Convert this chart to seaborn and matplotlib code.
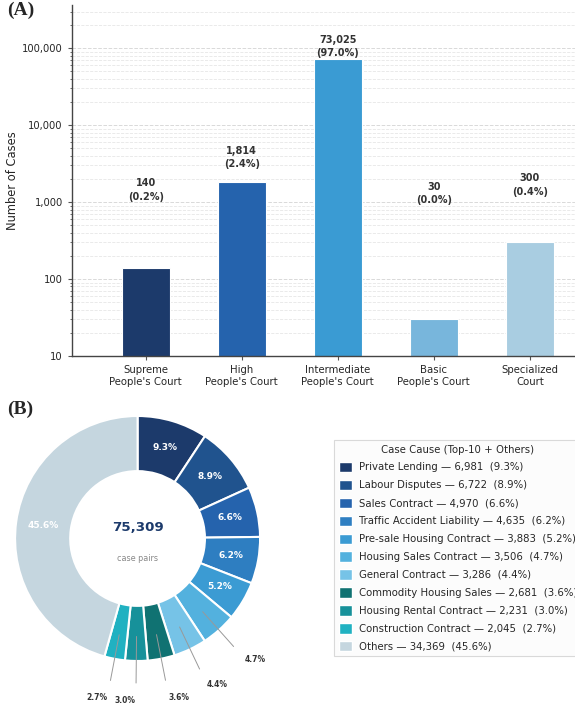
import numpy as np
import pandas as pd
import matplotlib
matplotlib.use("Agg")
import matplotlib.pyplot as plt
from matplotlib.ticker import FuncFormatter, LogLocator
from matplotlib.patches import Patch
from matplotlib.font_manager import FontProperties
import seaborn as sns

# ---- data ----
courts = ["Supreme\nPeople's Court", "High\nPeople's Court", "Intermediate\nPeople's Court",
          "Basic\nPeople's Court", "Specialized\nCourt"]
court_counts = [140, 1814, 73025, 30, 300]
court_colors = ["#1c3a6b", "#2563ad", "#3a9bd3", "#78b6dc", "#a9cde1"]

causes = ["Private Lending", "Labour Disputes", "Sales Contract", "Traffic Accident Liability",
          "Pre-sale Housing Contract", "Housing Sales Contract", "General Contract",
          "Commodity Housing Sales", "Housing Rental Contract", "Construction Contract", "Others"]
cause_counts = [6981, 6722, 4970, 4635, 3883, 3506, 3286, 2681, 2231, 2045, 34369]
cause_colors = ["#1c3a6b", "#20538e", "#2563ad", "#2e7ec1", "#3b9bd3", "#53b1de", "#76c3e7",
                "#107272", "#17919a", "#20b1c1", "#c5d6df"]

sns.set_style("white")
plt.rcParams["font.family"] = ["DejaVu Sans"]

fig = plt.figure(figsize=(5.75, 7.09), dpi=100)

# ---- (A) bar chart ----
ax = fig.add_axes([0.125, 0.498, 0.925, 0.495])
df = pd.DataFrame({"court": courts, "count": court_counts})
sns.barplot(data=df, x="court", y="count", hue="court", palette=court_colors, legend=False,
            width=0.5, saturation=1, edgecolor="white", linewidth=0.8, ax=ax)
ax.set_yscale("log")
total_a = sum(court_counts)
ax.set_ylim(10, max(court_counts) * 5)
ax.set_xlim(-0.77, 4.77)
ax.yaxis.set_major_formatter(FuncFormatter(lambda v, _: f"{int(v):,}"))
ax.yaxis.set_minor_locator(LogLocator(base=10, subs=np.arange(2, 10)))
ax.yaxis.grid(True, which="major", linestyle="--", color="#d9d9d9", linewidth=0.7)
ax.yaxis.grid(True, which="minor", linestyle="--", color="#e6e6e6", linewidth=0.6)
ax.set_axisbelow(True)
ax.tick_params(axis="y", which="major", labelsize=7.2, length=3, color="#555555", left=True)
ax.tick_params(axis="y", which="minor", length=1.5, color="#555555", left=True)
ax.tick_params(axis="x", labelsize=7.3, length=3, color="#555555", bottom=True)
ax.set_xlabel("")
ax.set_ylabel("Number of Cases", fontsize=8.3, labelpad=2)
sns.despine(ax=ax)
for s in ["left", "bottom"]:
    ax.spines[s].set_color("#444444")
    ax.spines[s].set_linewidth(1.0)

pad = max(court_counts) * 0.012
for i, v in enumerate(court_counts):
    ax.text(i, v + pad, f"{v:,}\n({v / total_a * 100:.1f}%)", ha="center", va="bottom",
            fontsize=7, fontweight="bold", color="#333333", linespacing=1.4)

# ---- (B) donut chart ----
axp = fig.add_axes([-0.059, -0.0014, 0.5965, 0.4838])
total_b = sum(cause_counts)
wedges, _ = axp.pie(cause_counts, colors=cause_colors, startangle=90, counterclock=False,
                    radius=1, wedgeprops=dict(width=0.45, edgecolor="white", linewidth=1.5))
axp.set_xlim(-1.4, 1.4)
axp.set_ylim(-1.4, 1.4)
axp.set_aspect("equal")
axp.axis("off")

for w, v in zip(wedges, cause_counts):
    pct = v / total_b * 100
    ang = np.deg2rad((w.theta1 + w.theta2) / 2)
    cx, cy = np.cos(ang), np.sin(ang)
    if pct >= 5:
        axp.text(0.775 * cx, 0.775 * cy, f"{pct:.1f}%", ha="center", va="center",
                 fontsize=6.5, fontweight="bold", color="white")
    else:
        axp.plot([0.8 * cx, 1.18 * cx], [0.8 * cy, 1.18 * cy], color="#999999", lw=0.7)
        axp.text(1.32 * cx, 1.32 * cy, f"{pct:.1f}%", ha="left" if cx > 0 else "right",
                 va="center", fontsize=5.5, fontweight="bold", color="#333333", clip_on=False)

axp.text(0, 0.09, f"{total_b:,}", ha="center", va="center", fontsize=9.6,
         fontweight="bold", color="#1c3a6b")
axp.text(0, -0.16, "case pairs", ha="center", va="center", fontsize=5.8, color="#888888")

handles = [Patch(facecolor=c, edgecolor="white") for c in cause_colors]
labels = [f"{n} \u2014 {v:,}  ({v / total_b * 100:.1f}%)" for n, v in zip(causes, cause_counts)]
leg = fig.legend(handles, labels, title="Case Cause (Top-10 + Others)", loc="upper left",
                 bbox_to_anchor=(334 / 575, 1 - 440 / 709), borderaxespad=0,
                 fontsize=7.3, title_fontsize=7.3,
                 frameon=True, fancybox=False, handlelength=1.3, handleheight=1.2,
                 labelspacing=0.72, borderpad=0.45, handletextpad=0.7)
leg.get_frame().set_edgecolor("#d0d0d0")
leg.get_frame().set_facecolor("#fcfcfc")
leg.get_frame().set_linewidth(0.8)

# panel labels
panel_font = FontProperties(family="Liberation Serif", weight="bold", size=14)
fig.text(0.012, 0.997, "(A)", fontproperties=panel_font, va="top", ha="left")
fig.text(0.012, 1 - 401 / 709, "(B)", fontproperties=panel_font, va="top", ha="left")

fig.savefig("out.png", dpi=100)
